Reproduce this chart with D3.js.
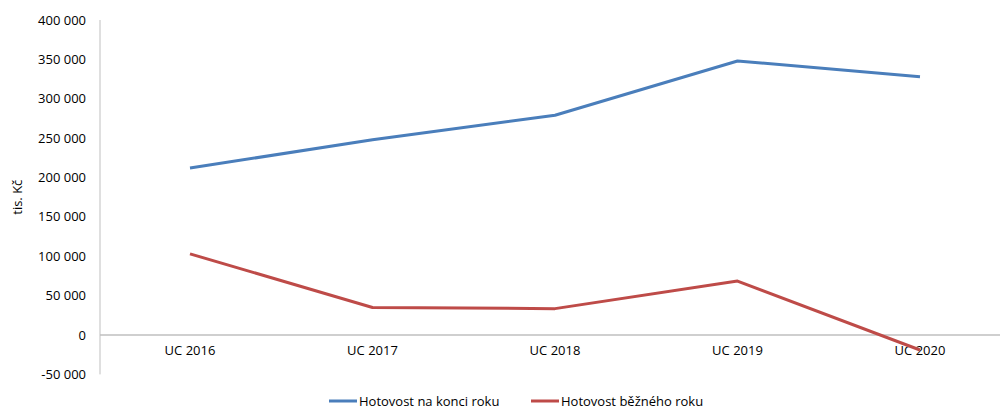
<!DOCTYPE html>
<html>
<head>
<meta charset="utf-8">
<script src="https://cdn.jsdelivr.net/npm/d3@7"></script>
<style>
  body { margin: 0; background: #fff; }
  svg { display: block; font-family: "Open Sans", "Liberation Sans", sans-serif; }
</style>
</head>
<body>
<svg id="chart" width="1000" height="410"></svg>
<script>
// Cash flow overview (tis. Kč)
const categories = ["UC 2016", "UC 2017", "UC 2018", "UC 2019", "UC 2020"];
const cashEndOfYear = [212000, 248000, 279000, 348000, 328000];
const cashCurrentYear = [103000, 35000, 33500, 68500, -19000];
const yTicks = [-50000, 0, 50000, 100000, 150000, 200000, 250000, 300000, 350000, 400000];

const series = [
  { name: "Hotovost na konci roku", values: cashEndOfYear, color: "#4a7ebb" },
  { name: "Hotovost běžného roku", values: cashCurrentYear, color: "#be4b48" }
];

const svg = d3.select("#chart");

const x = d3.scalePoint().domain(categories).range([190, 920]);
const y = d3.scaleLinear().domain([-50000, 400000]).range([374.4, 20]);

// Space as thousands separator, plain hyphen for negatives
const fmt = v => d3.format(",")(v).replace(/,/g, " ").replace("\u2212", "-");

// Y axis line and labels
svg.append("line")
  .attr("x1", 100).attr("x2", 100)
  .attr("y1", y(400000)).attr("y2", y(-50000))
  .attr("stroke", "#bfbfbf").attr("stroke-width", 1);

svg.append("g").selectAll("text").data(yTicks).join("text")
  .attr("x", 86).attr("y", d => y(d))
  .attr("dy", "0.35em")
  .attr("text-anchor", "end")
  .attr("font-size", 13).attr("fill", "#000")
  .text(fmt);

// Zero baseline
svg.append("line")
  .attr("x1", 100).attr("x2", 1000)
  .attr("y1", y(0)).attr("y2", y(0))
  .attr("stroke", "#bfbfbf").attr("stroke-width", 1.5);

// Category labels
svg.append("g").selectAll("text").data(categories).join("text")
  .attr("x", d => x(d)).attr("y", y(0) + 20)
  .attr("text-anchor", "middle")
  .attr("font-size", 13).attr("fill", "#000")
  .text(d => d);

// Axis title
svg.append("text")
  .attr("transform", `translate(22,${(y(400000) + y(-50000)) / 2}) rotate(-90)`)
  .attr("text-anchor", "middle")
  .attr("font-size", 13)
  .text("tis. Kč");

// Lines
const line = d3.line()
  .x((d, i) => x(categories[i]))
  .y(d => y(d));

svg.append("g").selectAll("path").data(series).join("path")
  .attr("d", d => line(d.values))
  .attr("fill", "none")
  .attr("stroke", d => d.color)
  .attr("stroke-width", 3)
  .attr("stroke-linejoin", "round");

// Legend
const legend = svg.append("g").selectAll("g").data(series).join("g")
  .attr("transform", (d, i) => `translate(${[329, 531][i]},401)`);
legend.append("line")
  .attr("x1", 0).attr("x2", 28)
  .attr("stroke", d => d.color).attr("stroke-width", 3);
legend.append("text")
  .attr("x", 30).attr("dy", "0.35em")
  .attr("font-size", 13)
  .text(d => d.name);
</script>
</body>
</html>
